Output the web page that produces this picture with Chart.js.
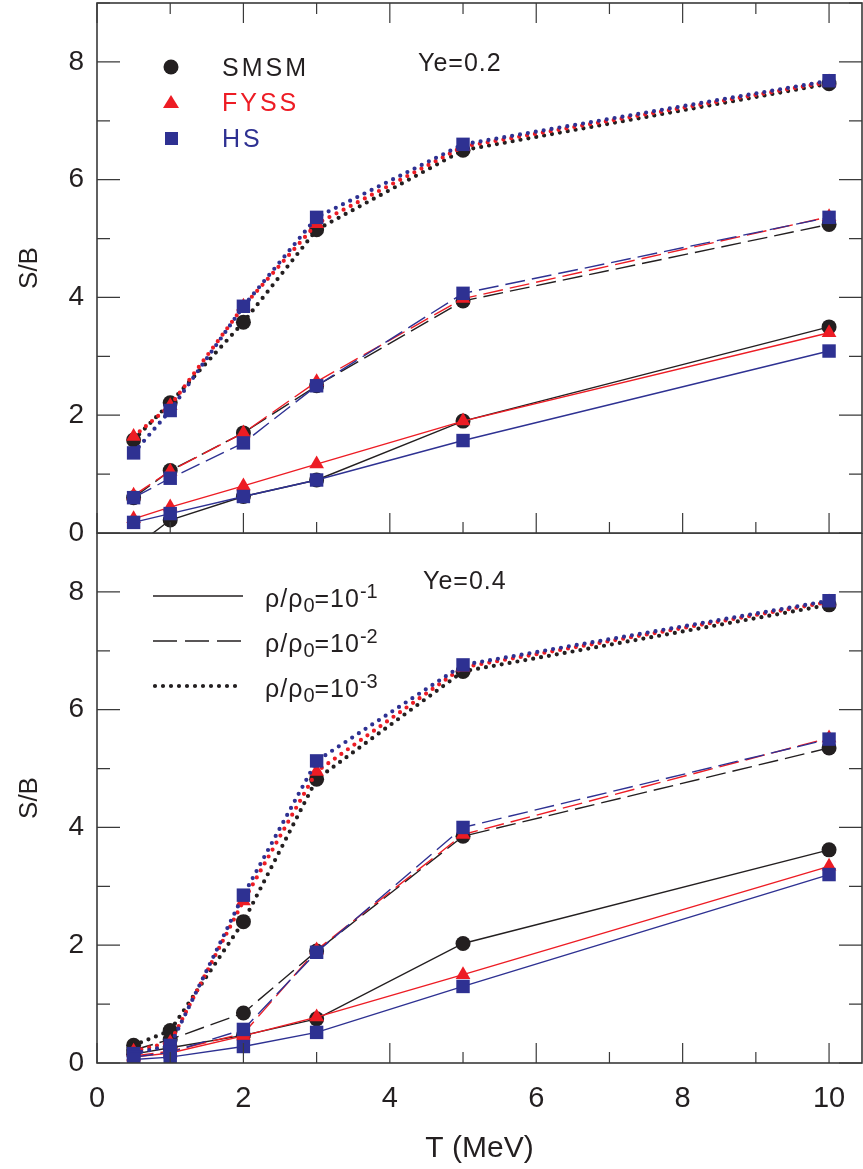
<!DOCTYPE html>
<html>
<head>
<meta charset="utf-8">
<script src="https://cdn.jsdelivr.net/npm/chart.js@4.4.1/dist/chart.umd.min.js"></script>
<style>
  body { margin: 0; background: #fff; }
  #wrap { position: relative; width: 863px; height: 1169px; overflow: hidden; }
  canvas { position: absolute; left: 0; }
  .t { position: absolute; font-family: 'Liberation Sans', Arial, sans-serif; font-size: 25px;
       line-height: 1; transform: translateY(-50%); white-space: nowrap; letter-spacing: 3px; color: #231f20; }
  .t sub { font-size: 0.8em; vertical-align: -0.25em; line-height: 0; letter-spacing: 0; }
  .t sup { font-size: 0.8em; vertical-align: 0.45em; line-height: 0; letter-spacing: 0; }
</style>
</head>
<body>
<div id="wrap">
  <canvas id="botChart" width="863" height="636" style="top:533px"></canvas>
  <canvas id="topChart" width="863" height="560" style="top:0"></canvas>

  <div class="t" style="left:222px; top:67px;">SMSM</div>
  <div class="t" style="left:222px; top:102px; color:#ed1c24;">FYSS</div>
  <div class="t" style="left:222px; top:138px; color:#2e3192;">HS</div>
  <div class="t" style="left:418px; top:62px; letter-spacing:1px;">Ye=0.2</div>

  <div class="t" style="left:423px; top:580px; letter-spacing:1px;">Ye=0.4</div>
  <div class="t" style="left:265px; top:598px; letter-spacing:1px;">ρ/ρ<sub>0</sub>=10<sup>-1</sup></div>
  <div class="t" style="left:265px; top:643px; letter-spacing:1px;">ρ/ρ<sub>0</sub>=10<sup>-2</sup></div>
  <div class="t" style="left:265px; top:688px; letter-spacing:1px;">ρ/ρ<sub>0</sub>=10<sup>-3</sup></div>
</div>
<script>
const T = [0.5, 1, 2, 3, 5, 10];

// Ye = 0.2   (r1: rho/rho0 = 1e-1, r2: 1e-2, r3: 1e-3)
const smsm02_r1 = [-0.25, 0.22, 0.62, 0.90, 1.90, 3.50];
const fyss02_r1 = [0.24, 0.44, 0.80, 1.17, 1.90, 3.40];
const hs02_r1   = [0.18, 0.33, 0.62, 0.90, 1.57, 3.09];
const smsm02_r2 = [0.60, 1.06, 1.70, 2.50, 3.94, 5.24];
const fyss02_r2 = [0.64, 1.05, 1.70, 2.57, 3.98, 5.37];
const hs02_r2   = [0.60, 0.93, 1.53, 2.50, 4.07, 5.36];
const smsm02_r3 = [1.58, 2.21, 3.58, 5.15, 6.50, 7.63];
const fyss02_r3 = [1.64, 2.16, 3.85, 5.25, 6.56, 7.66];
const hs02_r3   = [1.36, 2.08, 3.85, 5.36, 6.60, 7.68];

// Ye = 0.4
const smsm04_r1 = [0.15, 0.26, 0.47, 0.75, 2.03, 3.62];
const fyss04_r1 = [0.10, 0.17, 0.46, 0.78, 1.50, 3.34];
const hs04_r1   = [0.06, 0.10, 0.28, 0.52, 1.30, 3.20];
const smsm04_r2 = [0.22, 0.40, 0.85, 1.90, 3.85, 5.35];
const fyss04_r2 = [0.12, 0.20, 0.50, 1.92, 3.88, 5.52];
const hs04_r2   = [0.10, 0.18, 0.57, 1.88, 4.00, 5.50];
const smsm04_r3 = [0.30, 0.55, 2.40, 4.82, 6.65, 7.78];
const fyss04_r3 = [0.20, 0.35, 2.75, 4.95, 6.72, 7.83];
const hs04_r3   = [0.16, 0.30, 2.85, 5.13, 6.76, 7.85];

const BLACK = '#231f20', RED = '#ed1c24', BLUE = '#2e3192';
const FONT = "'Liberation Sans Narrow', 'Arial Narrow', 'Liberation Sans', Arial, sans-serif";

const models = {
    smsm: { color: BLACK, point: 'circle', radius: 7.5, order: 3 },
    fyss: { color: RED, point: 'triangle', radius: 8.5, order: 2 },
    hs:   { color: BLUE, point: 'rect', radius: 9.5, order: 1 }
};

function series(values, model, density) {
    const m = models[model];
    const d = {
        data: values.map((v, i) => ({ x: T[i], y: v })),
        borderColor: m.color,
        backgroundColor: m.color,
        pointStyle: m.point,
        pointRadius: m.radius,
        pointBorderWidth: 0,
        order: m.order,
        borderWidth: 1.4,
        tension: 0
    };
    if (density === 2) d.borderDash = [20, 7];
    if (density === 3) {
        d.borderDash = [0, 8];
        d.borderWidth = 4.2;
        d.borderCapStyle = 'round';
    }
    return d;
}

const boxAndTicks = {
    id: 'boxAndTicks',
    afterDatasetsDraw(chart, args, opts) {
        const { ctx, chartArea: a, scales: { x, y } } = chart;
        ctx.save();
        ctx.strokeStyle = '#3a3a3a';
        ctx.lineWidth = 1.2;
        ctx.beginPath();
        for (let v = 0; v <= 10; v++) {
            const px = x.getPixelForValue(v), len = v % 2 ? 11 : 20;
            ctx.moveTo(px, a.bottom); ctx.lineTo(px, a.bottom - len);
            if (opts.topTicks) { ctx.moveTo(px, a.top); ctx.lineTo(px, a.top + len); }
        }
        for (let v = 0; v <= 9; v++) {
            const py = y.getPixelForValue(v), len = v % 2 ? 13 : 23;
            ctx.moveTo(a.left, py); ctx.lineTo(a.left + len, py);
            ctx.moveTo(a.right, py); ctx.lineTo(a.right - len, py);
        }
        ctx.stroke();
        ctx.lineWidth = 1.6;
        ctx.strokeRect(a.left, a.top, a.right - a.left, a.bottom - a.top);

        // legend symbols
        if (opts.legend === 'models') {
            ctx.fillStyle = BLACK;
            ctx.beginPath(); ctx.arc(171, 67, 7.5, 0, Math.PI * 2); ctx.fill();
            ctx.fillStyle = RED;
            ctx.beginPath(); ctx.moveTo(171, 95); ctx.lineTo(179, 108); ctx.lineTo(163, 108); ctx.closePath(); ctx.fill();
            ctx.fillStyle = BLUE;
            ctx.fillRect(165, 132, 13, 13);
        }
        if (opts.legend === 'density') {
            ctx.strokeStyle = BLACK;
            ctx.lineWidth = 1.4;
            ctx.beginPath(); ctx.moveTo(153, 63); ctx.lineTo(243, 63); ctx.stroke();
            ctx.setLineDash([24, 8]);
            ctx.beginPath(); ctx.moveTo(153, 108); ctx.lineTo(243, 108); ctx.stroke();
            ctx.setLineDash([0, 8]);
            ctx.lineCap = 'round';
            ctx.lineWidth = 4.2;
            ctx.beginPath(); ctx.moveTo(155, 153); ctx.lineTo(243, 153); ctx.stroke();
        }
        ctx.restore();
    }
};

// drop the automatic label overhang padding so the plot box sits exactly where we want it
function noOverhang(s) {
    s.paddingTop = 0; s.paddingBottom = 0; s.paddingLeft = 0; s.paddingRight = 0;
}

function makeChart(id, sets, isBottom) {
    const xScale = {
        type: 'linear',
        display: isBottom,
        min: 0,
        max: 10.45,
        grid: { display: false, drawTicks: false },
        border: { display: false },
        ticks: {
            stepSize: 2,
            includeBounds: false,
            padding: 19,
            color: BLACK,
            font: { family: FONT, size: 29 }
        },
        title: {
            display: true,
            text: 'T (MeV)',
            color: BLACK,
            font: { family: FONT, size: 30 },
            padding: { top: 2, bottom: 2 }
        },
        afterFit(s) {
            noOverhang(s);
            if (isBottom) s.height = 106;
        }
    };

    return new Chart(document.getElementById(id), {
        type: 'line',
        data: { datasets: sets },
        options: {
            responsive: false,
            animation: false,
            layout: {
                autoPadding: false,
                padding: isBottom ? { top: 0, bottom: 0, left: 0, right: 1 } : { top: 3, bottom: 27, left: 0, right: 1 }
            },
            plugins: {
                legend: { display: false },
                tooltip: { enabled: false },
                boxAndTicks: { topTicks: !isBottom, legend: isBottom ? 'density' : 'models' }
            },
            scales: {
                x: xScale,
                y: {
                    min: 0,
                    max: 9,
                    grid: { display: false, drawTicks: false },
                    border: { display: false },
                    ticks: {
                        stepSize: 1,
                        includeBounds: false,
                        padding: 13,
                        color: BLACK,
                        font: { family: FONT, size: 28 },
                        callback: v => (v % 2 === 0 ? v : '')
                    },
                    title: {
                        display: true,
                        text: 'S/B',
                        color: BLACK,
                        font: { family: FONT, size: 26 },
                        padding: { top: 14, bottom: 0 }
                    },
                    afterFit(s) {
                        noOverhang(s);
                        s.width = 97;
                    }
                }
            }
        },
        plugins: [boxAndTicks]
    });
}

makeChart('topChart', [
    series(smsm02_r1, 'smsm', 1), series(fyss02_r1, 'fyss', 1), series(hs02_r1, 'hs', 1),
    series(smsm02_r2, 'smsm', 2), series(fyss02_r2, 'fyss', 2), series(hs02_r2, 'hs', 2),
    series(smsm02_r3, 'smsm', 3), series(fyss02_r3, 'fyss', 3), series(hs02_r3, 'hs', 3)
], false);

makeChart('botChart', [
    series(smsm04_r1, 'smsm', 1), series(fyss04_r1, 'fyss', 1), series(hs04_r1, 'hs', 1),
    series(smsm04_r2, 'smsm', 2), series(fyss04_r2, 'fyss', 2), series(hs04_r2, 'hs', 2),
    series(smsm04_r3, 'smsm', 3), series(fyss04_r3, 'fyss', 3), series(hs04_r3, 'hs', 3)
], true);
</script>
</body>
</html>
